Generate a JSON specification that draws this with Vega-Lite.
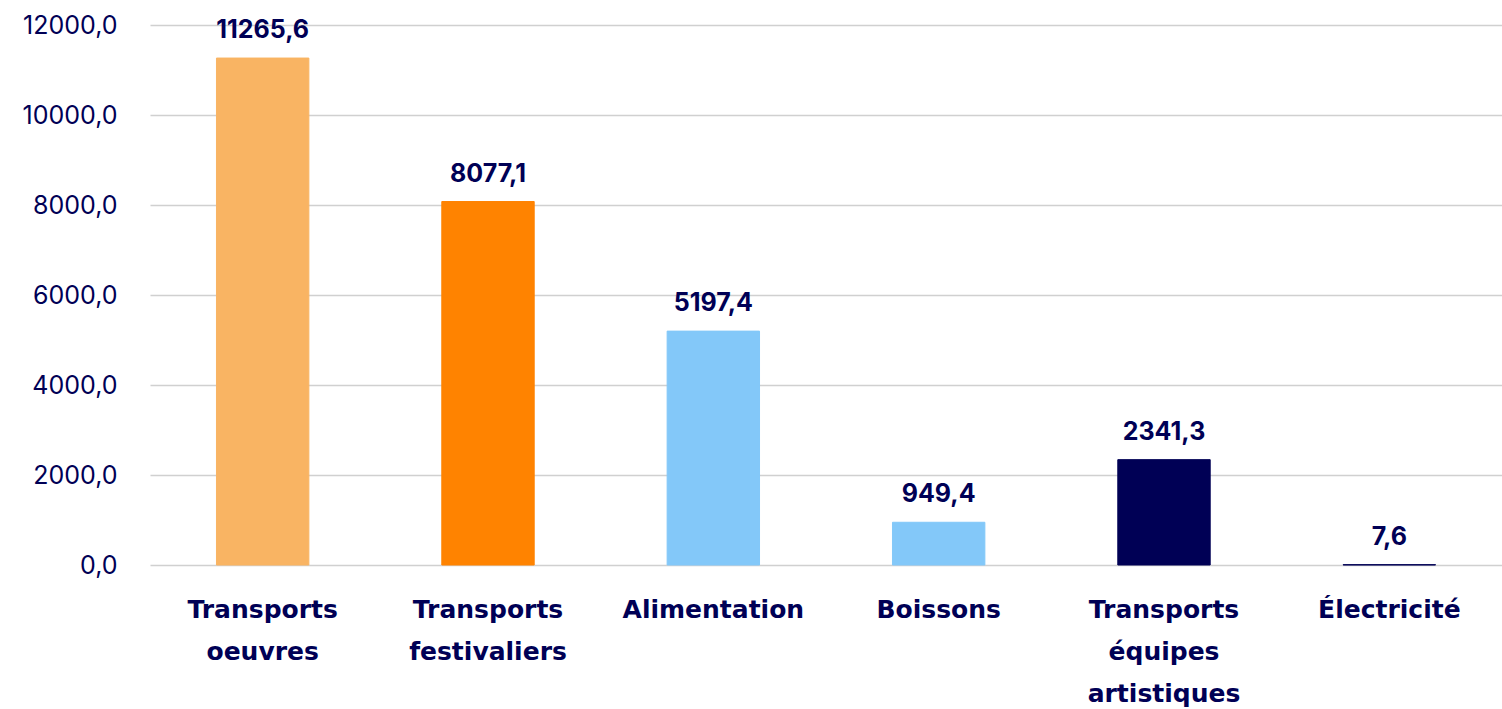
{
  "$schema": "https://vega.github.io/schema/vega-lite/v6.json",
  "autosize": "none",
  "width": 1352,
  "height": 540,
  "padding": {"left": 150, "top": 25, "right": 0, "bottom": 144},
  "background": "white",
  "config": {
    "locale": {"number": {"decimal": ",", "thousands": "", "grouping": [3], "currency": ["", " €"]}},
    "view": {"stroke": null},
    "font": "Inter"
  },
  "data": {
    "values": [
      {"cat": "Transports oeuvres", "value": 11265.6, "color": "#F9B463"},
      {"cat": "Transports festivaliers", "value": 8077.1, "color": "#FF8300"},
      {"cat": "Alimentation", "value": 5197.4, "color": "#83C8F9"},
      {"cat": "Boissons", "value": 949.4, "color": "#83C8F9"},
      {"cat": "Transports équipes artistiques", "value": 2341.3, "color": "#000055"},
      {"cat": "Électricité", "value": 7.6, "color": "#000055"}
    ]
  },
  "encoding": {
    "x": {
      "field": "cat", "type": "nominal", "sort": null,
      "scale": {"paddingInner": 0.59, "paddingOuter": 0.295},
      "axis": {
        "title": null, "labelAngle": 0, "ticks": false, "domain": false,
        "labelExpr": "split(datum.value, ' ')",
        "labelFont": "DejaVu Sans", "labelFontSize": 25, "labelFontWeight": "bold",
        "labelColor": "#000055", "labelPadding": 32, "labelBaseline": "top",
        "labelLineHeight": 42, "labelLimit": 400
      }
    },
    "y": {
      "field": "value", "type": "quantitative",
      "scale": {"domain": [0, 12000]},
      "axis": {
        "title": null, "values": [0, 2000, 4000, 6000, 8000, 10000, 12000],
        "format": ".1f", "ticks": false, "domain": false,
        "gridColor": "#D0D0D0", "gridWidth": 1.5,
        "labelFont": "Inter", "labelFontSize": 25, "labelColor": "#000055",
        "labelPadding": 33
      }
    }
  },
  "layer": [
    {
      "mark": {"type": "bar", "strokeWidth": 1},
      "encoding": {
        "color": {"field": "color", "type": "nominal", "scale": null},
        "stroke": {"field": "color", "type": "nominal", "scale": null}
      }
    },
    {
      "mark": {"type": "text", "baseline": "alphabetic", "dy": -20, "fontSize": 25, "fontWeight": "bold", "color": "#000055", "font": "Inter"},
      "encoding": {"text": {"field": "value", "type": "quantitative", "format": ".1f"}}
    }
  ]
}
